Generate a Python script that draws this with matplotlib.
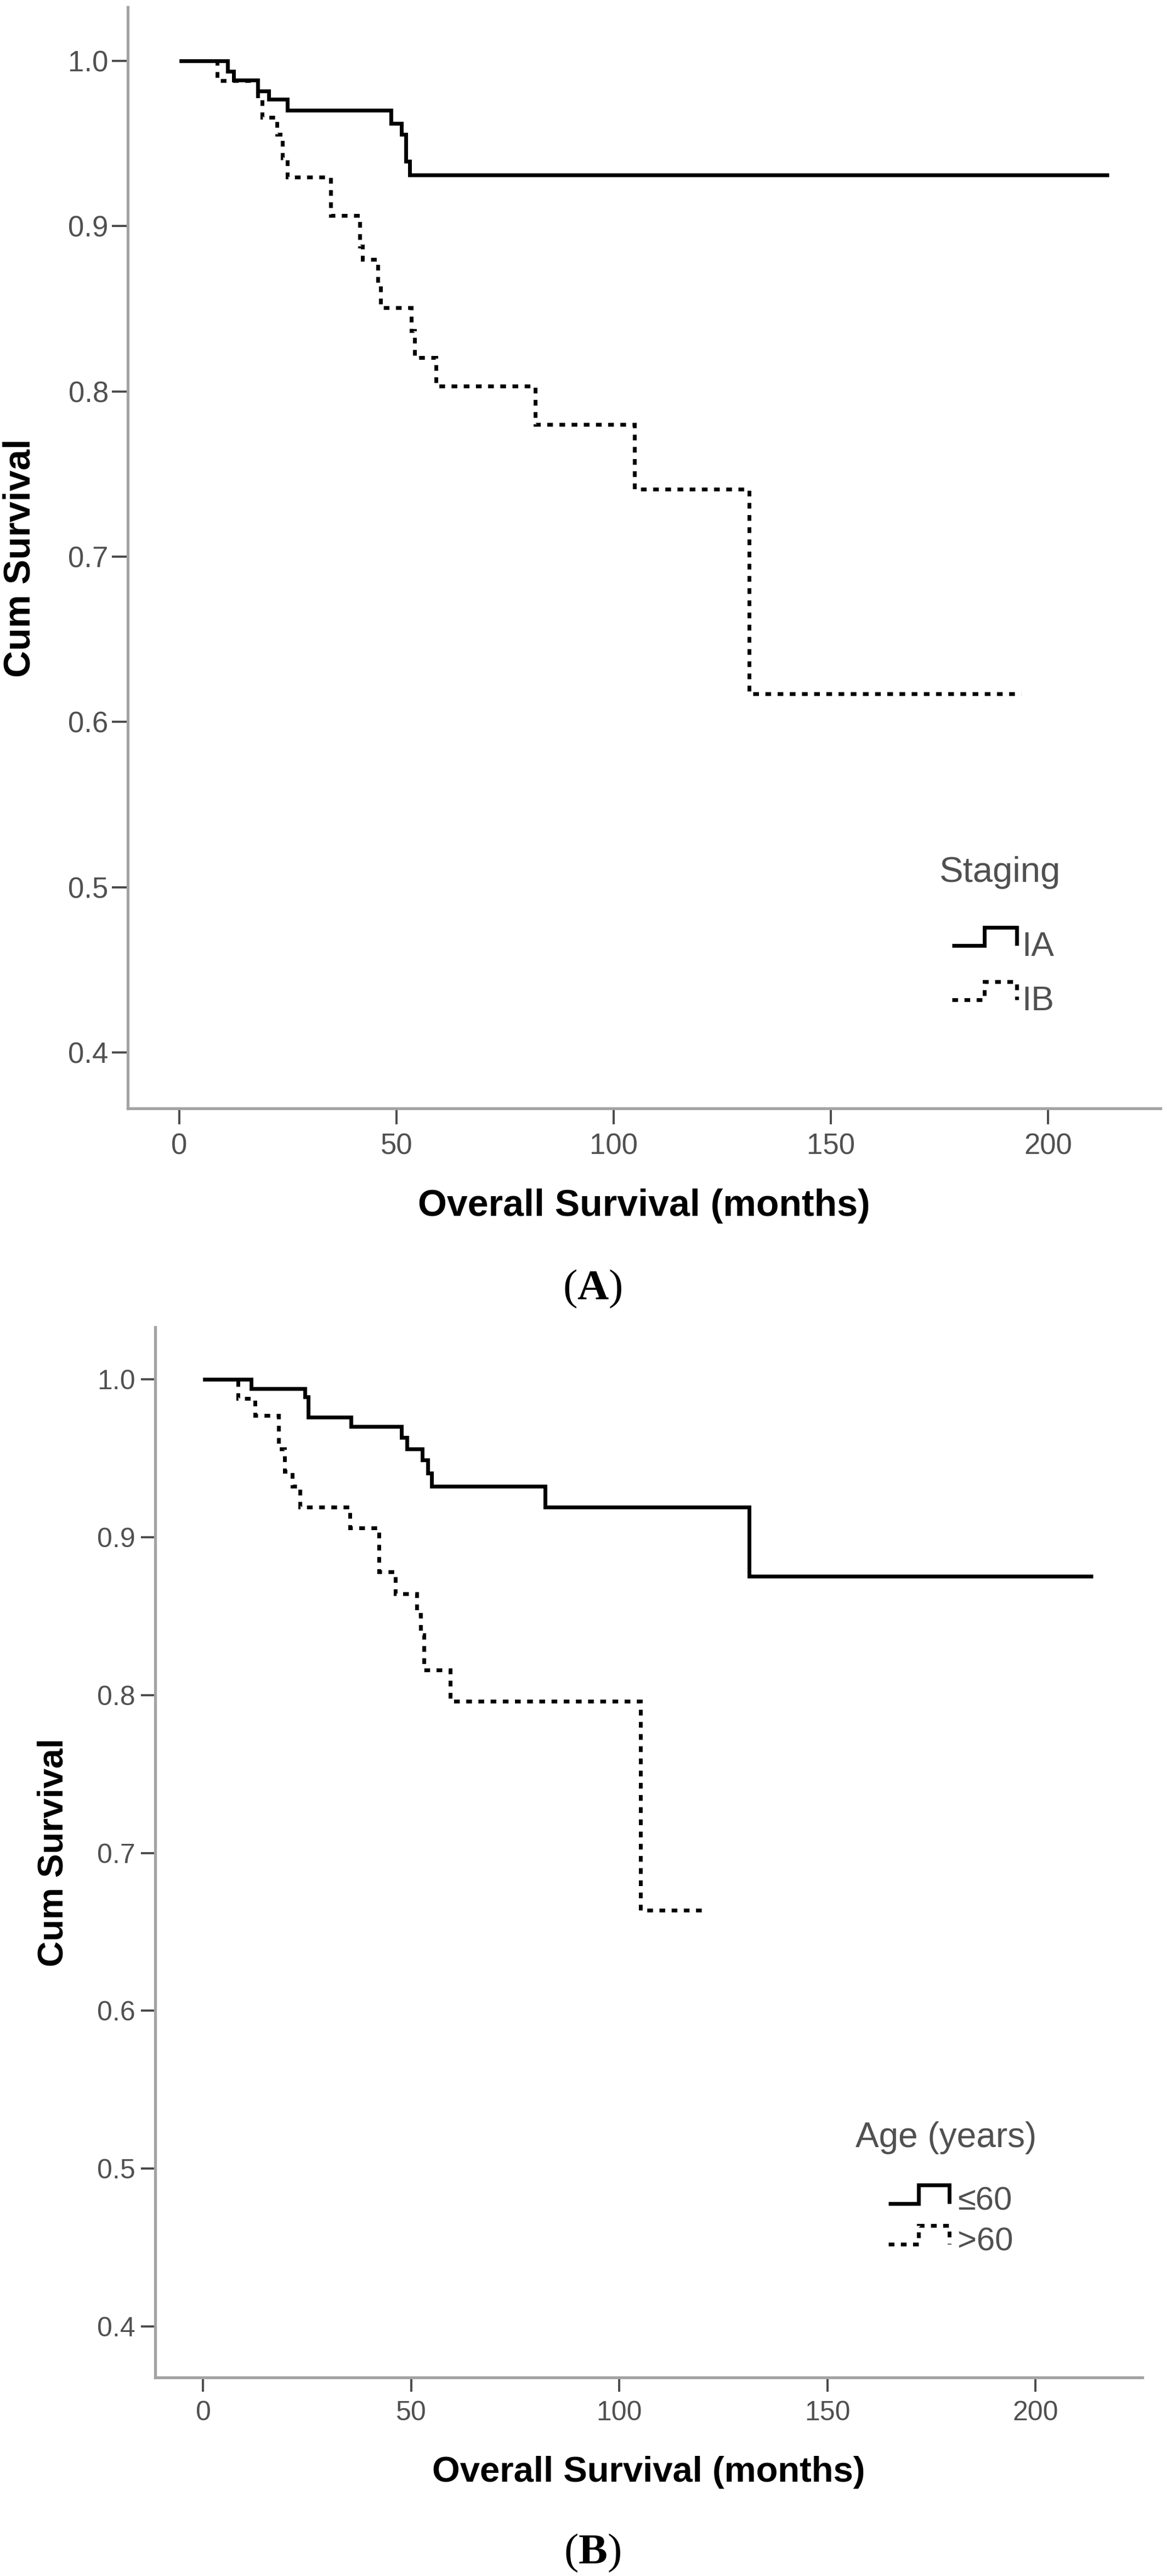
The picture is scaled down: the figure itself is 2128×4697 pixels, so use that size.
import matplotlib
matplotlib.use("Agg")
import matplotlib.pyplot as plt
from matplotlib.lines import Line2D
from matplotlib.legend_handler import HandlerBase

plt.rcParams['font.family'] = ['Liberation Sans', 'DejaVu Sans']
plt.rcParams['mathtext.fontset'] = 'custom'
plt.rcParams['mathtext.bf'] = 'Liberation Serif:bold'
plt.rcParams['mathtext.rm'] = 'Liberation Serif'

# ---------------- data ----------------
# Panel A: Staging
a_ia_time = [0, 11.1, 12.5, 18.1, 20.6, 24.9, 48.7, 51.1, 52.1, 53.0, 214.0]
a_ia_surv = [1.0, 0.9938, 0.9884, 0.9817, 0.9768, 0.970, 0.9623, 0.9554, 0.9391, 0.9309, 0.9309]
a_ib_time = [0, 8.7, 18.1, 19.1, 22.5, 23.8, 24.9, 34.8, 41.6, 42.2, 45.7, 46.3,
             53.4, 54.2, 59.1, 81.9, 104.8, 131.2, 193.8]
a_ib_surv = [1.0, 0.988, 0.9786, 0.9658, 0.9554, 0.9414, 0.9297, 0.9065, 0.8878, 0.8797,
             0.865, 0.8506, 0.8366, 0.8203, 0.8033, 0.780, 0.7407, 0.617, 0.617]

# Panel B: Age
b_le60_time = [0, 11.5, 24.5, 25.2, 35.5, 47.6, 48.9, 52.7, 54.0, 54.9, 82.2, 131.2, 213.9]
b_le60_surv = [1.0, 0.994, 0.989, 0.976, 0.970, 0.963, 0.956, 0.9488, 0.9407, 0.9324,
               0.919, 0.8753, 0.8753]
b_gt60_time = [0, 8.4, 12.4, 18.1, 19.6, 21.4, 23.2, 35.2, 42.2, 46.2, 51.3, 52.2,
               53.1, 59.4, 105.1, 120.8]
b_gt60_surv = [1.0, 0.988, 0.977, 0.956, 0.9417, 0.9324, 0.919, 0.906, 0.878, 0.864,
               0.851, 0.838, 0.816, 0.796, 0.6637, 0.6637]

x_ticks = [0, 50, 100, 150, 200]
y_ticks = [0.4, 0.5, 0.6, 0.7, 0.8, 0.9, 1.0]
y_ticklabels = ["0.4", "0.5", "0.6", "0.7", "0.8", "0.9", "1.0"]

a_legend_title = "Staging"
a_labels = ["IA", "IB"]
b_legend_title = "Age (years)"
b_labels = ["\u226460", ">60"]
xlabel = "Overall Survival (months)"
ylabel = "Cum Survival"

# ---------------- styles ----------------
LW = 5.0
SOLID = dict(color='black', lw=LW, linestyle='-', solid_joinstyle='miter', solid_capstyle='butt')
DOTTED = dict(color='black', lw=LW, linestyle=(0, (1.5, 1.7)), dash_capstyle='butt',
              dash_joinstyle='miter')
SPINE_C = '#a3a3a3'
TICK_C = '#4a4a4a'
TEXT_C = '#505050'


class StepHandler(HandlerBase):
    def __init__(self, low, high, mid=0.5):
        super().__init__()
        self.low, self.high, self.mid = low, high, mid

    def create_artists(self, legend, orig_handle, xdescent, ydescent, width, height,
                       fontsize, trans):
        x0 = -xdescent
        xm = x0 + self.mid * width
        x1 = x0 + width
        yl = self.low * fontsize
        yh = self.high * fontsize
        ln = Line2D([x0, xm, xm, x1, x1], [yl, yl, yh, yh, yl])
        ln.update_from(orig_handle)
        ln.set_transform(trans)
        return [ln]


W, H = 2128, 4697
fig = plt.figure(figsize=(W / 100, H / 100), dpi=100)


def make_panel(rect, xlim, ylim, series, labels, title, tick_fs, lab_fs, tick_len,
               ytick_pad, xlab_y, ylab_x, leg_pos, title_pos, leg_fs, title_fs,
               handler_low, handler_high, labelspacing, handlelength, handletextpad):
    ax = fig.add_axes([rect[0] / W, 1 - rect[3] / H, (rect[2] - rect[0]) / W,
                       (rect[3] - rect[1]) / H])
    handles = []
    for (t, s, style) in series:
        h, = ax.step(t, s, where='post', **style)
        handles.append(h)
    ax.set_xlim(*xlim)
    ax.set_ylim(*ylim)
    for sp in ['top', 'right']:
        ax.spines[sp].set_visible(False)
    for sp in ['left', 'bottom']:
        ax.spines[sp].set_color(SPINE_C)
        ax.spines[sp].set_linewidth(3.8)
    ax.set_xticks(x_ticks)
    ax.set_xticklabels([str(v) for v in x_ticks])
    ax.set_yticks(y_ticks)
    ax.set_yticklabels(y_ticklabels)
    ax.tick_params(axis='both', direction='out', length=tick_len, width=2.8,
                   color=TICK_C, labelcolor=TEXT_C, labelsize=tick_fs)
    ax.tick_params(axis='x', pad=11)
    ax.tick_params(axis='y', pad=ytick_pad)
    ax.set_xlabel(xlabel, fontsize=lab_fs, fontweight='bold', color='black')
    ax.set_ylabel(ylabel, fontsize=lab_fs, fontweight='bold', color='black')
    ax.xaxis.set_label_coords(0.5, xlab_y)
    ax.xaxis.label.set_va('center')
    ax.yaxis.set_label_coords(ylab_x, 0.5)
    ax.yaxis.label.set_va('center')
    ax.text(title_pos[0], title_pos[1], title, transform=ax.transAxes, ha='left',
            va='baseline', fontsize=title_fs, color=TEXT_C)
    hm = {h: StepHandler(handler_low, handler_high) for h in handles}
    leg = ax.legend(handles, labels, loc='upper left', bbox_to_anchor=leg_pos,
                    frameon=False, fontsize=leg_fs, handler_map=hm, borderpad=0,
                    borderaxespad=0, labelspacing=labelspacing, handlelength=handlelength,
                    handletextpad=handletextpad, handleheight=0.7)
    for txt in leg.get_texts():
        txt.set_color(TEXT_C)
    return ax


# Panel A
make_panel(rect=(233, 13, 2116, 2021), xlim=(-11.87, 225.9), ylim=(0.3661, 1.0325),
           series=[(a_ia_time, a_ia_surv, SOLID), (a_ib_time, a_ib_surv, DOTTED)],
           labels=a_labels, title=a_legend_title, tick_fs=38, lab_fs=49, tick_len=21,
           ytick_pad=4.3, xlab_y=-0.0886, ylab_x=-0.1041,
           leg_pos=(0.7982, 0.1614), title_pos=(0.786, 0.2057), leg_fs=45, title_fs=47,
           handler_low=0.31, handler_high=0.83, labelspacing=0.64, handlelength=1.88,
           handletextpad=0.16)

# Panel B
make_panel(rect=(283, 2420, 2083, 4335), xlim=(-11.53, 225.7), ylim=(0.3677, 1.033),
           series=[(b_le60_time, b_le60_surv, SOLID), (b_gt60_time, b_gt60_surv, DOTTED)],
           labels=b_labels, title=b_legend_title, tick_fs=36, lab_fs=47, tick_len=19,
           ytick_pad=7, xlab_y=-0.0903, ylab_x=-0.1033,
           leg_pos=(0.7428, 0.1822), title_pos=(0.7094, 0.2193), leg_fs=43, title_fs=46,
           handler_low=0.19, handler_high=0.75, labelspacing=0.32, handlelength=1.85,
           handletextpad=0.26)

# Panel captions
for lab, yb in [("A", 2369), ("B", 4674)]:
    fig.text(1080 / W, 1 - yb / H, "(" + r"$\mathbf{" + lab + "}$" + ")",
             ha='center', va='baseline', fontsize=57, family='Liberation Serif',
             color='black')

fig.savefig("out.png", dpi=100, facecolor='white')
